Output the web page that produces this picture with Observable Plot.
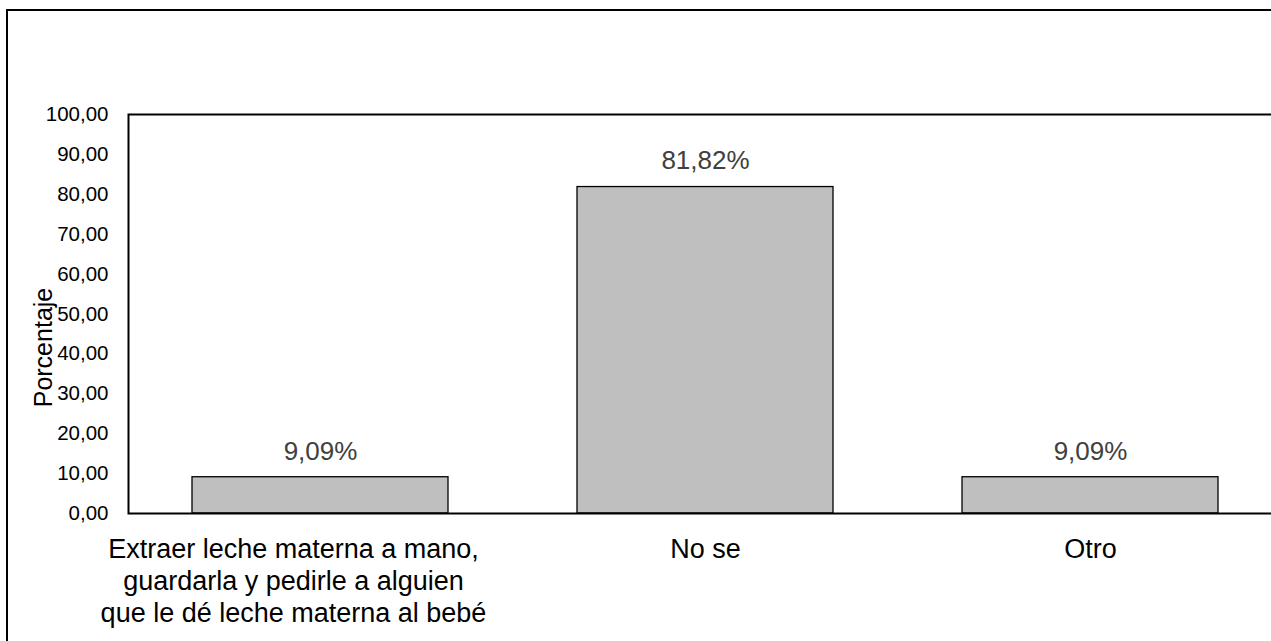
<!DOCTYPE html>
<html>
<head>
<meta charset="utf-8">
<script src="https://cdn.jsdelivr.net/npm/d3@7"></script>
<script src="https://cdn.jsdelivr.net/npm/@observablehq/plot@0.6"></script>
<style>
  html, body { margin: 0; padding: 0; background: #fff; overflow: hidden; width: 1271px; height: 641px; }
  #wrap { position: relative; width: 1271px; height: 641px; overflow: hidden; }
  #border { position: absolute; left: 6px; top: 9px; width: 2000px; height: 2000px; border: 2px solid #000; box-sizing: border-box; pointer-events: none; }
  #chart { position: absolute; left: 0; top: 0; width: 1290px; }
  #chart svg { max-width: none !important; width: 1290px; height: 641px; font-family: "Liberation Sans", Arial, sans-serif; }
</style>
</head>
<body>
<div id="wrap">
  <div id="chart"></div>
  <div id="border"></div>
</div>
<script>
const categories = [
  "Extraer leche materna a mano,\nguardarla y pedirle a alguien\nque le dé leche materna al bebé",
  "No se",
  "Otro"
];
const values = [9.09, 81.82, 9.09];
const valueLabels = ["9,09%", "81,82%", "9,09%"];
const yTicks = [0, 10, 20, 30, 40, 50, 60, 70, 80, 90, 100];
const yTitle = "Porcentaje";

const data = categories.map((c, i) => ({cat: c, value: values[i], label: valueLabels[i]}));
const catLabelStyle = {
  x: "cat",
  y: () => 0,
  text: "cat",
  lineAnchor: "top",
  dy: 21,
  fontSize: 27,
  lineHeight: 1.2,
  fill: "#000"
};

const chart = Plot.plot({
  width: 1290,
  height: 641,
  marginLeft: 128,
  marginRight: 7,
  marginTop: 114,
  marginBottom: 128,
  style: {fontFamily: "'Liberation Sans', Arial, sans-serif", background: "transparent", maxWidth: "none"},
  x: {domain: categories, paddingInner: 0.335, paddingOuter: 0.1675, axis: null},
  y: {domain: [0, 100], axis: null},
  marks: [
    Plot.barY(data, {x: "cat", y: "value", fill: "#BFBFBF", stroke: "#000", strokeWidth: 1.3}),
    Plot.frame({stroke: "#000", strokeWidth: 2}),
    Plot.axisY({
      ticks: yTicks,
      tickFormat: d => d.toFixed(2).replace(".", ","),
      tickSize: 0,
      tickPadding: 20,
      fontSize: 20.5,
      fill: "#000",
      label: null
    }),
    Plot.text([yTitle], {
      frameAnchor: "left",
      y: () => 41.6,
      text: d => d,
      rotate: -90,
      textAnchor: "middle",
      dx: -85,
      fontSize: 25,
      fill: "#000"
    }),
    Plot.text(data, {
      x: "cat",
      y: "value",
      text: "label",
      dy: -26,
      fontSize: 26,
      fill: "#404040"
    }),
    Plot.text(data.slice(0, 1), {...catLabelStyle, dx: -27}),
    Plot.text(data.slice(1), catLabelStyle)
  ]
});
document.getElementById("chart").appendChild(chart);
</script>
</body>
</html>
